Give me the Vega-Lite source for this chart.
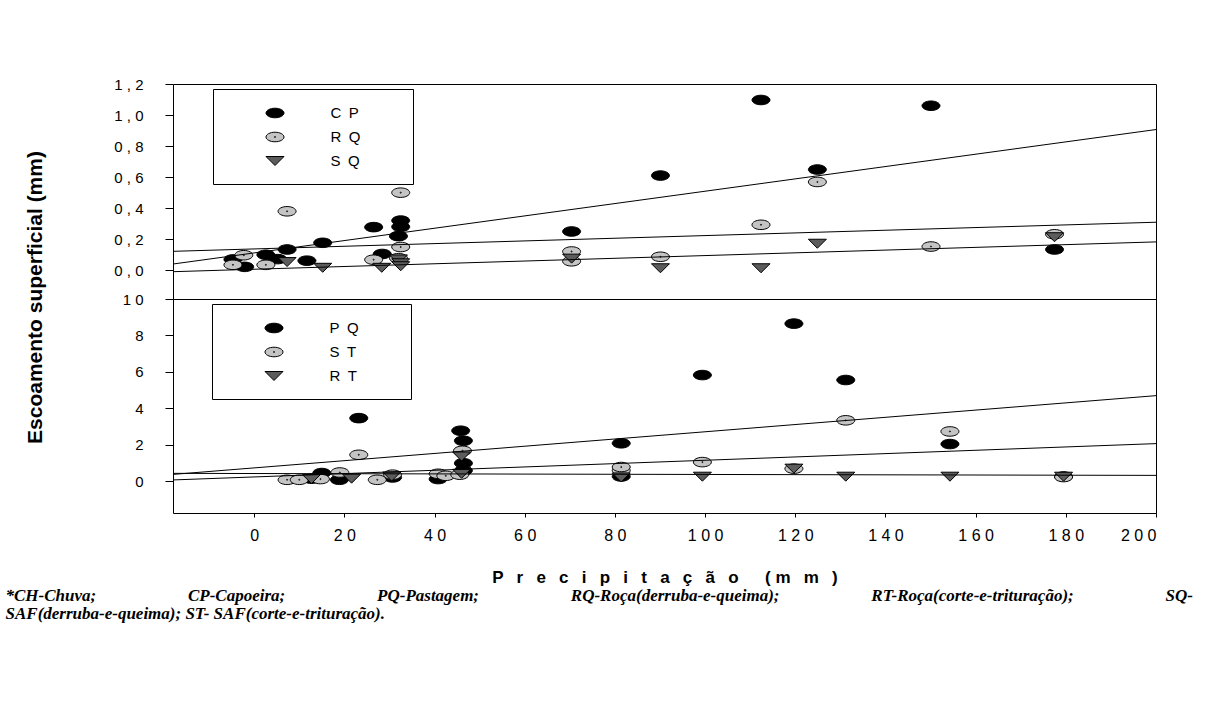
{
  "$schema": "https://vega.github.io/schema/vega-lite/v6.json",
  "padding": {"left": 5, "top": 76, "right": 5, "bottom": 5},
  "autosize": {"type": "pad"},
  "bounds": "flush",
  "background": "white",
  "config": {
    "font": "Liberation Sans",
    "view": {"stroke": "#000", "strokeWidth": 1},
    "axis": {"domain": false, "grid": false, "tickColor": "#000", "labelColor": "#000", "labelFont": "Liberation Sans", "titleFont": "Liberation Sans", "titleColor": "#000"},
    "concat": {"spacing": 0}
  },
  "datasets": {
    "top": [
      {"s": "C P", "p": -4.7, "e": 0.07}, {"s": "C P", "p": -2.1, "e": 0.022}, {"s": "C P", "p": 2.6, "e": 0.10},
      {"s": "C P", "p": 5.2, "e": 0.072}, {"s": "C P", "p": 7.3, "e": 0.134}, {"s": "C P", "p": 11.7, "e": 0.062},
      {"s": "C P", "p": 15.2, "e": 0.177}, {"s": "C P", "p": 26.5, "e": 0.278}, {"s": "C P", "p": 28.4, "e": 0.105},
      {"s": "C P", "p": 32.0, "e": 0.22}, {"s": "C P", "p": 32.5, "e": 0.28}, {"s": "C P", "p": 32.5, "e": 0.32},
      {"s": "C P", "p": 70.4, "e": 0.25}, {"s": "C P", "p": 90.1, "e": 0.61}, {"s": "C P", "p": 112.4, "e": 1.097},
      {"s": "C P", "p": 124.9, "e": 0.649}, {"s": "C P", "p": 150.1, "e": 1.06}, {"s": "C P", "p": 177.5, "e": 0.134},
      {"s": "R Q", "p": -4.7, "e": 0.035}, {"s": "R Q", "p": -2.3, "e": 0.097}, {"s": "R Q", "p": 2.6, "e": 0.035},
      {"s": "R Q", "p": 7.3, "e": 0.38}, {"s": "R Q", "p": 26.5, "e": 0.068}, {"s": "R Q", "p": 32.0, "e": 0.078},
      {"s": "R Q", "p": 32.5, "e": 0.15}, {"s": "R Q", "p": 32.5, "e": 0.50}, {"s": "R Q", "p": 70.4, "e": 0.058},
      {"s": "R Q", "p": 70.4, "e": 0.121}, {"s": "R Q", "p": 90.1, "e": 0.087}, {"s": "R Q", "p": 112.4, "e": 0.293},
      {"s": "R Q", "p": 124.9, "e": 0.569}, {"s": "R Q", "p": 150.1, "e": 0.153}, {"s": "R Q", "p": 177.5, "e": 0.232},
      {"s": "S Q", "p": 7.3, "e": 0.053}, {"s": "S Q", "p": 15.2, "e": 0.016}, {"s": "S Q", "p": 28.3, "e": 0.016},
      {"s": "S Q", "p": 32.0, "e": 0.07}, {"s": "S Q", "p": 32.5, "e": 0.045}, {"s": "S Q", "p": 32.5, "e": 0.026},
      {"s": "S Q", "p": 70.4, "e": 0.075}, {"s": "S Q", "p": 90.1, "e": 0.013}, {"s": "S Q", "p": 112.4, "e": 0.013},
      {"s": "S Q", "p": 124.9, "e": 0.171}, {"s": "S Q", "p": 177.5, "e": 0.213}
    ],
    "bottom": [
      {"s": "P Q", "p": 12.7, "e": 0.15},
      {"s": "P Q", "p": 15.0, "e": 0.46}, {"s": "P Q", "p": 18.9, "e": 0.09}, {"s": "P Q", "p": 23.2, "e": 3.47},
      {"s": "P Q", "p": 30.7, "e": 0.22}, {"s": "P Q", "p": 40.8, "e": 0.13}, {"s": "P Q", "p": 45.8, "e": 2.78},
      {"s": "P Q", "p": 46.4, "e": 2.23}, {"s": "P Q", "p": 46.4, "e": 1.0}, {"s": "P Q", "p": 46.4, "e": 0.6},
      {"s": "P Q", "p": 81.4, "e": 2.09}, {"s": "P Q", "p": 81.4, "e": 0.27}, {"s": "P Q", "p": 99.4, "e": 5.83},
      {"s": "P Q", "p": 119.7, "e": 8.65}, {"s": "P Q", "p": 131.2, "e": 5.56}, {"s": "P Q", "p": 154.3, "e": 2.05},
      {"s": "P Q", "p": 179.5, "e": 0.27},
      {"s": "S T", "p": 7.3, "e": 0.09}, {"s": "S T", "p": 10.0, "e": 0.09}, {"s": "S T", "p": 14.7, "e": 0.13},
      {"s": "S T", "p": 19.0, "e": 0.49}, {"s": "S T", "p": 23.2, "e": 1.46}, {"s": "S T", "p": 27.3, "e": 0.09},
      {"s": "S T", "p": 30.7, "e": 0.37}, {"s": "S T", "p": 40.8, "e": 0.42}, {"s": "S T", "p": 42.5, "e": 0.31},
      {"s": "S T", "p": 45.6, "e": 0.37}, {"s": "S T", "p": 46.2, "e": 1.68}, {"s": "S T", "p": 81.4, "e": 0.6},
      {"s": "S T", "p": 81.4, "e": 0.79}, {"s": "S T", "p": 99.4, "e": 1.06}, {"s": "S T", "p": 119.7, "e": 0.7},
      {"s": "S T", "p": 131.2, "e": 3.35}, {"s": "S T", "p": 154.3, "e": 2.74}, {"s": "S T", "p": 179.5, "e": 0.24},
      {"s": "R T", "p": 12.7, "e": 0.13}, {"s": "R T", "p": 21.6, "e": 0.15}, {"s": "R T", "p": 30.5, "e": 0.27},
      {"s": "R T", "p": 46.0, "e": 0.42}, {"s": "R T", "p": 46.0, "e": 1.37}, {"s": "R T", "p": 81.4, "e": 0.22},
      {"s": "R T", "p": 99.4, "e": 0.26}, {"s": "R T", "p": 119.7, "e": 0.7}, {"s": "R T", "p": 131.2, "e": 0.26},
      {"s": "R T", "p": 154.3, "e": 0.26}, {"s": "R T", "p": 179.5, "e": 0.26}
    ]
  },
  "title": {
    "text": ["*CH-Chuva; \u2003\u2003\u2003\u2003\u2002\u2009\u2009 CP-Capoeira; \u2003\u2003\u2003\u2003\u2002\u2009\u2009 PQ-Pastagem; \u2003\u2003\u2003\u2003\u2002\u2009\u2009 RQ-Roça(derruba-e-queima); \u2003\u2003\u2003\u2003\u2002\u2009\u2009 RT-Roça(corte-e-trituração); \u2003\u2003\u2003\u2003\u2002\u2009\u2009 SQ-", "SAF(derruba-e-queima); ST- SAF(corte-e-trituração)."],
    "orient": "bottom",
    "anchor": "start",
    "font": "Liberation Serif",
    "fontSize": 17,
    "fontStyle": "italic",
    "fontWeight": "bold",
    "color": "#000",
    "lineHeight": 18,
    "offset": 2,
    "dx": -18
  },
  "resolve": {"scale": {"color": "independent", "shape": "independent", "y": "independent", "x": "independent"}, "legend": {"color": "independent", "shape": "independent"}},
  "vconcat": [
    {
      "width": 983, "height": 215,
      "data": {"name": "top"},
      "encoding": {
        "x": {"field": "p", "type": "quantitative", "scale": {"domain": [-18, 200], "nice": false, "zero": false}, "axis": null},
        "y": {"field": "e", "type": "quantitative", "scale": {"domain": [-0.185, 1.2], "nice": false, "zero": false},
          "axis": {"title": "Escoamento superficial (mm)", "values": [0, 0.2, 0.4, 0.6, 0.8, 1.0, 1.2],
            "labelExpr": "join(split(replace(format(datum.value,'.1f'),'.',','),''),' ')",
            "tickSize": 8, "labelPadding": 22, "labelFontSize": 15,
            "titleFontSize": 21, "titleFontWeight": "bold", "titleX": -138, "titleY": 213, "titleAngle": -90, "titleAlign": "center", "titleBaseline": "middle"}}
      },
      "layer": [
        {
          "mark": {"type": "point", "filled": true, "opacity": 1, "stroke": "#000", "strokeWidth": 1, "size": 324},
          "encoding": {
            "color": {"field": "s", "type": "nominal", "scale": {"domain": ["C P", "R Q", "S Q"], "range": ["#000000", "#c4c4c4", "#5c5c5c"]},
              "legend": {"title": null, "orient": "none", "legendX": 40, "legendY": 5, "padding": 14.5, "strokeColor": "#000", "fillColor": "#fff", "symbolSize": 324, "symbolStrokeColor": "#000", "symbolStrokeWidth": 1, "symbolOpacity": 1, "symbolOffset": 38, "labelOffset": 46, "labelFontSize": 15, "labelFont": "Liberation Sans", "labelColor": "#000", "rowPadding": 6, "labelExpr": "replace(datum.label,' ','\u2002') + '\u00a0\u00a0\u00a0\u00a0\u00a0\u00a0\u00a0\u00a0\u00a0\u200b'",
                "encode": {"symbols": {"update": {"stroke": {"value": "#000"}, "strokeWidth": {"value": 1}, "opacity": {"value": 1}}}}}},
            "shape": {"field": "s", "type": "nominal", "scale": {"domain": ["C P", "R Q", "S Q"], "range": ["M-1,0A1,0.53,0,1,0,1,0A1,0.53,0,1,0,-1,0Z", "M-1,0A1,0.53,0,1,0,1,0A1,0.53,0,1,0,-1,0ZM-0.06,0A0.06,0.06,0,1,0,0.06,0A0.06,0.06,0,1,0,-0.06,0Z", "M-1,-0.5L1,-0.5L0,0.5Z"]},
              "legend": {"title": null, "orient": "none", "legendX": 40, "legendY": 5, "padding": 14.5, "strokeColor": "#000", "fillColor": "#fff", "symbolSize": 324, "symbolStrokeColor": "#000", "symbolStrokeWidth": 1, "symbolOpacity": 1, "symbolOffset": 38, "labelOffset": 46, "labelFontSize": 15, "labelFont": "Liberation Sans", "labelColor": "#000", "rowPadding": 6, "labelExpr": "replace(datum.label,' ','\u2002') + '\u00a0\u00a0\u00a0\u00a0\u00a0\u00a0\u00a0\u00a0\u00a0\u200b'",
                "encode": {"symbols": {"update": {"stroke": {"value": "#000"}, "strokeWidth": {"value": 1}, "opacity": {"value": 1}}}}}}
          }
        },
        {
          "transform": [{"regression": "e", "on": "p", "groupby": ["s"], "extent": [-18, 200]}],
          "mark": {"type": "line", "color": "#000", "strokeWidth": 1},
          "encoding": {"detail": {"field": "s", "type": "nominal"}}
        }
      ]
    },
    {
      "width": 983, "height": 214,
      "data": {"name": "bottom"},
      "encoding": {
        "x": {"field": "p", "type": "quantitative", "scale": {"domain": [-18, 200], "nice": false, "zero": false},
          "axis": {"title": "P \u2002r \u2002e \u2002c \u2002i \u2002p \u2002i \u2002t \u2002a \u2002ç \u2002ã \u2002o \u2002 \u2002( m \u2002m \u2002)", "values": [0, 20, 40, 60, 80, 100, 120, 140, 160, 180, 200],
            "labelExpr": "join(split(datum.label,''),' ')", "tickSize": 4, "labelPadding": 10, "labelFontSize": 16, "labelDx": -4,
            "titleFontSize": 17, "titleFontWeight": "bold", "titlePadding": 26}},
        "y": {"field": "e", "type": "quantitative", "scale": {"domain": [-1.73, 10], "nice": false, "zero": false},
          "axis": {"title": null, "values": [0, 2, 4, 6, 8, 10], "labelExpr": "join(split(datum.label,''),' ')",
            "tickSize": 8, "labelPadding": 22, "labelFontSize": 15}}
      },
      "layer": [
        {
          "mark": {"type": "point", "filled": true, "opacity": 1, "stroke": "#000", "strokeWidth": 1, "size": 324},
          "encoding": {
            "color": {"field": "s", "type": "nominal", "scale": {"domain": ["P Q", "S T", "R T"], "range": ["#000000", "#c4c4c4", "#5c5c5c"]},
              "legend": {"title": null, "orient": "none", "legendX": 39, "legendY": 5, "padding": 14.5, "strokeColor": "#000", "fillColor": "#fff", "symbolSize": 324, "symbolStrokeColor": "#000", "symbolStrokeWidth": 1, "symbolOpacity": 1, "symbolOffset": 38, "labelOffset": 46, "labelFontSize": 15, "labelFont": "Liberation Sans", "labelColor": "#000", "rowPadding": 6, "labelExpr": "replace(datum.label,' ','\u2002') + '\u00a0\u00a0\u00a0\u00a0\u00a0\u00a0\u00a0\u00a0\u00a0\u200b'",
                "encode": {"symbols": {"update": {"stroke": {"value": "#000"}, "strokeWidth": {"value": 1}, "opacity": {"value": 1}}}}}},
            "shape": {"field": "s", "type": "nominal", "scale": {"domain": ["P Q", "S T", "R T"], "range": ["M-1,0A1,0.53,0,1,0,1,0A1,0.53,0,1,0,-1,0Z", "M-1,0A1,0.53,0,1,0,1,0A1,0.53,0,1,0,-1,0ZM-0.06,0A0.06,0.06,0,1,0,0.06,0A0.06,0.06,0,1,0,-0.06,0Z", "M-1,-0.5L1,-0.5L0,0.5Z"]},
              "legend": {"title": null, "orient": "none", "legendX": 39, "legendY": 5, "padding": 14.5, "strokeColor": "#000", "fillColor": "#fff", "symbolSize": 324, "symbolStrokeColor": "#000", "symbolStrokeWidth": 1, "symbolOpacity": 1, "symbolOffset": 38, "labelOffset": 46, "labelFontSize": 15, "labelFont": "Liberation Sans", "labelColor": "#000", "rowPadding": 6, "labelExpr": "replace(datum.label,' ','\u2002') + '\u00a0\u00a0\u00a0\u00a0\u00a0\u00a0\u00a0\u00a0\u00a0\u200b'",
                "encode": {"symbols": {"update": {"stroke": {"value": "#000"}, "strokeWidth": {"value": 1}, "opacity": {"value": 1}}}}}}
          }
        },
        {
          "transform": [{"regression": "e", "on": "p", "groupby": ["s"], "extent": [-18, 200]}],
          "mark": {"type": "line", "color": "#000", "strokeWidth": 1},
          "encoding": {"detail": {"field": "s", "type": "nominal"}}
        }
      ]
    }
  ]
}
